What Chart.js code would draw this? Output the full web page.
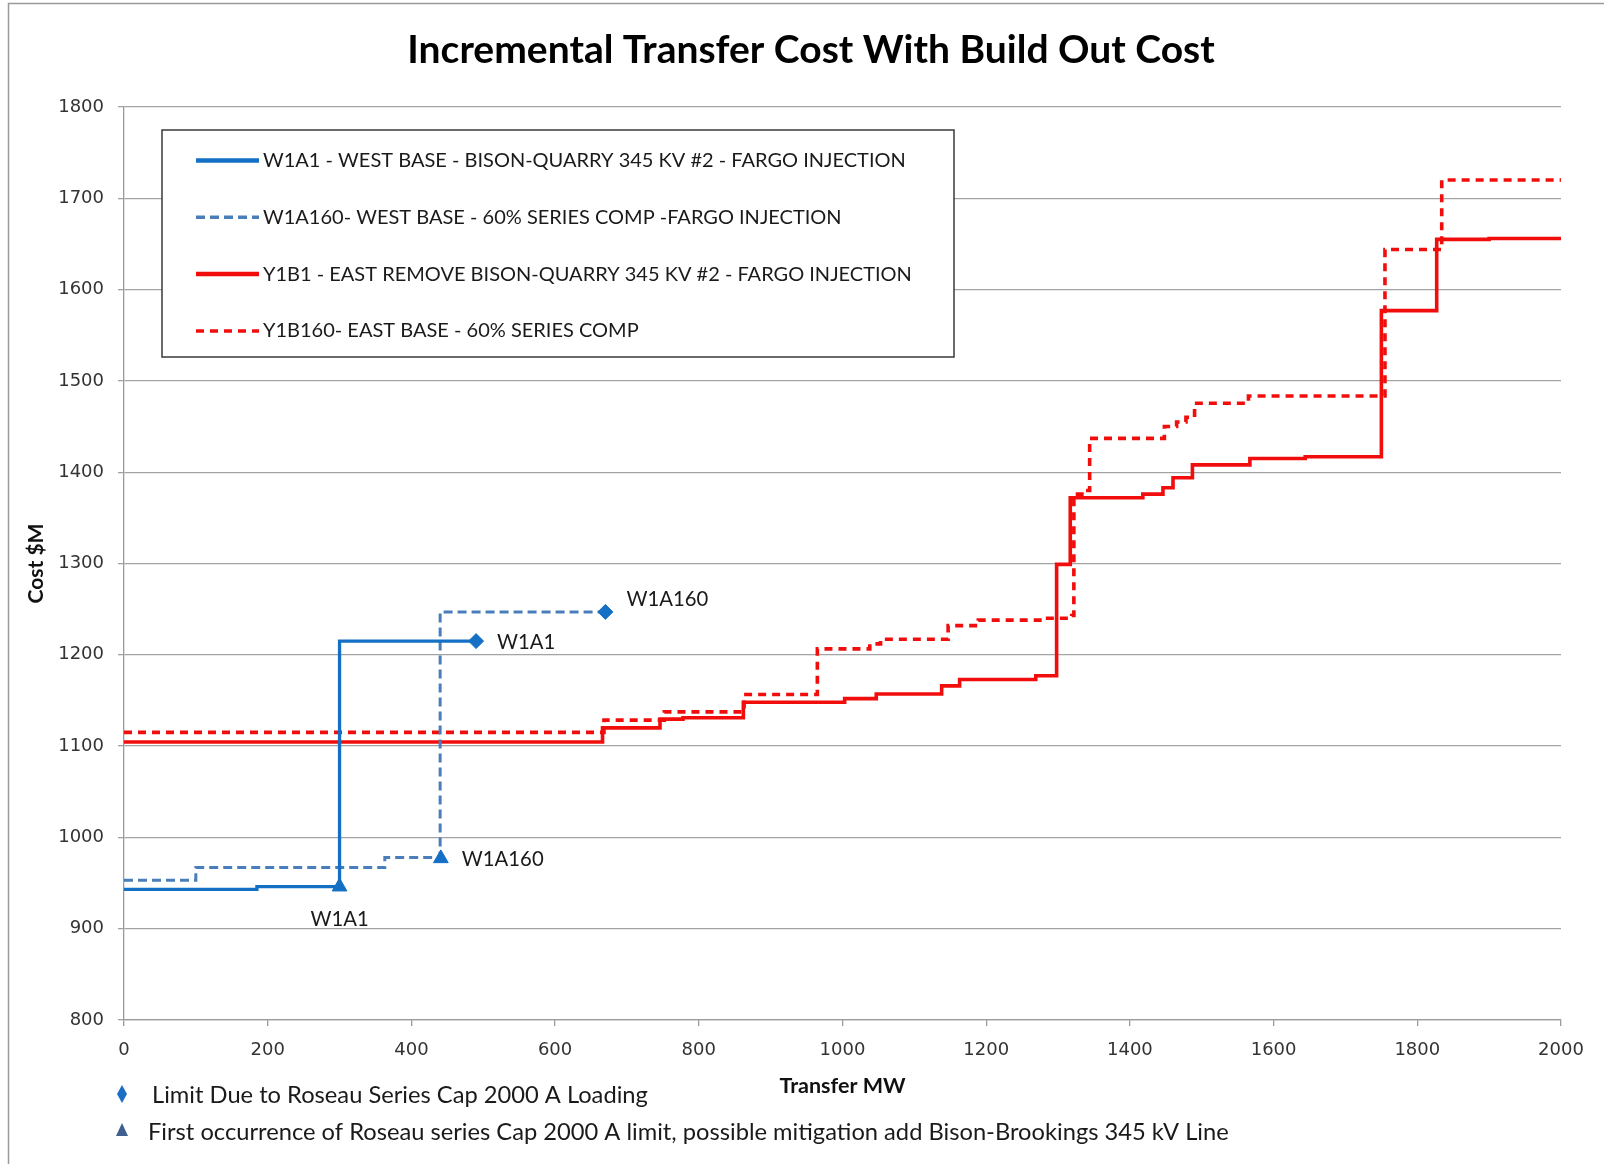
<!DOCTYPE html>
<html>
<head>
<meta charset="utf-8">
<title>Incremental Transfer Cost With Build Out Cost</title>
<script src="https://cdn.jsdelivr.net/npm/chart.js@4.4.1/dist/chart.umd.min.js"></script>
<style>
  html, body { margin: 0; padding: 0; background: #fff; }
  #grafico { display: block; }
</style>
</head>
<body>
<canvas id="grafico" width="1604" height="1164"></canvas>
<script>
const titulo = 'Incremental Transfer Cost With Build Out Cost';
const tituloX = 'Transfer MW';
const tituloY = 'Cost $M';

const nombresSeries = [
    'W1A1 - WEST BASE - BISON-QUARRY 345 KV #2 - FARGO INJECTION',
    'W1A160- WEST BASE - 60% SERIES COMP -FARGO INJECTION',
    'Y1B1 - EAST REMOVE BISON-QUARRY 345 KV #2 - FARGO INJECTION',
    'Y1B160- EAST BASE - 60% SERIES COMP'
];

// each pair = MW where a cost level starts, and that level ($M); last pair closes the line
const w1a1MW = [0, 185, 300, 490];
const w1a1Costo = [943, 946, 1215, 1215];

const w1a160MW = [0, 100, 363, 440, 670];
const w1a160Costo = [953, 967, 978, 1247, 1247];

const y1b1MW = [0, 666, 746, 778, 862, 1003, 1047, 1138, 1163, 1269, 1298, 1317, 1418, 1446, 1460, 1487, 1567, 1644, 1750, 1827, 1900, 2000];
const y1b1Costo = [1104.5, 1120, 1129.5, 1131, 1148, 1152, 1157, 1166, 1173, 1177, 1299, 1372, 1376, 1383, 1394, 1408, 1415, 1417, 1577, 1655, 1656, 1656];

const y1b160MW = [0, 668, 752, 863, 965, 1038, 1053, 1147, 1189, 1279, 1319, 1322, 1338, 1344, 1448, 1465, 1478, 1490, 1565, 1755, 1834, 2000];
const y1b160Costo = [1115, 1128.5, 1137.5, 1156.5, 1206.5, 1212, 1217, 1232, 1238, 1240, 1243, 1376, 1380, 1437, 1450, 1455, 1460, 1475.5, 1483.5, 1644, 1720, 1720];

// diamonds: limit due to Roseau series cap loading
const limiteMW = [490, 670];
const limiteCosto = [1215, 1247];
const limiteEtiquetas = ['W1A1', 'W1A160'];

// triangles: first occurrence of the Roseau limit
const primeraMW = [300, 441];
const primeraCosto = [946, 977];
const primeraEtiquetas = ['W1A1', 'W1A160'];

const notas = [
    'Limit Due to Roseau Series Cap 2000 A Loading',
    'First occurrence of Roseau series Cap 2000 A limit, possible mitigation add Bison-Brookings 345 kV Line'
];

const ticksX = [0, 200, 400, 600, 800, 1000, 1200, 1400, 1600, 1800, 2000];
const ticksY = [800, 900, 1000, 1100, 1200, 1300, 1400, 1500, 1600, 1700, 1800];

const azul = '#1470c4';
const azulClaro = '#4a7ebb';
const rojo = '#f20d0d';

const puntos = (xs, ys) => xs.map((x, i) => ({ x: x, y: ys[i] }));

const leyendaCaja = {
    id: 'leyendaCaja',
    afterDatasetsDraw(chart) {
        const { ctx, chartArea } = chart;
        const left = chartArea.left + 38;
        const top = chartArea.top + 23;
        ctx.save();
        ctx.fillStyle = '#fff';
        ctx.fillRect(left, top, 792, 227);
        ctx.strokeStyle = '#3a3a3a';
        ctx.lineWidth = 1.5;
        ctx.strokeRect(left, top, 792, 227);
        ctx.font = '20px Lato';
        ctx.textBaseline = 'middle';
        for (let i = 0; i < nombresSeries.length; i++) {
            const ds = chart.data.datasets[i];
            const y = top + 30.5 + i * 56.8;
            ctx.beginPath();
            ctx.strokeStyle = ds.borderColor;
            ctx.lineWidth = ds.borderDash.length ? 3.5 : 4.5;
            ctx.setLineDash(ds.borderDash);
            ctx.moveTo(left + 34, y);
            ctx.lineTo(left + 97, y);
            ctx.stroke();
            ctx.setLineDash([]);
            ctx.fillStyle = '#1a1a1a';
            ctx.fillText(nombresSeries[i], left + 101, y);
        }
        ctx.restore();
    }
};

const textos = {
    id: 'textos',
    afterDraw(chart) {
        const { ctx, scales } = chart;
        ctx.save();

        // marco
        ctx.strokeStyle = '#9a9a9a';
        ctx.lineWidth = 1.5;
        ctx.beginPath();
        ctx.moveTo(8.5, 1164);
        ctx.lineTo(8.5, 3.5);
        ctx.lineTo(1604, 3.5);
        ctx.stroke();

        ctx.fillStyle = '#000';
        ctx.textAlign = 'center';
        ctx.textBaseline = 'middle';
        ctx.font = 'bold 39px Lato';
        ctx.fillText(titulo, 811, 50);

        // etiquetas junto a los marcadores
        ctx.font = '20.3px Lato';
        ctx.fillStyle = '#1a1a1a';
        ctx.textAlign = 'left';
        limiteEtiquetas.forEach((t, i) => {
            const px = scales.x.getPixelForValue(limiteMW[i]);
            const py = scales.y.getPixelForValue(limiteCosto[i]);
            ctx.fillText(t, px + 21, i === 0 ? py + 1 : py - 12);
        });
        primeraEtiquetas.forEach((t, i) => {
            const px = scales.x.getPixelForValue(primeraMW[i]);
            const py = scales.y.getPixelForValue(primeraCosto[i]);
            if (i === 0) {
                ctx.textAlign = 'center';
                ctx.fillText(t, px, py + 33);
            } else {
                ctx.textAlign = 'left';
                ctx.fillText(t, px + 21, py + 1);
            }
        });

        // notas al pie
        ctx.font = '23.7px Lato';
        ctx.textAlign = 'left';
        ctx.fillText(notas[0], 152, 1095);
        ctx.fillText(notas[1], 148, 1132);

        ctx.fillStyle = '#1a6fc4';
        ctx.beginPath();
        ctx.moveTo(122, 1085);
        ctx.lineTo(127, 1094);
        ctx.lineTo(122, 1103);
        ctx.lineTo(117, 1094);
        ctx.closePath();
        ctx.fill();

        ctx.fillStyle = '#3f5f8f';
        ctx.beginPath();
        ctx.moveTo(122, 1123);
        ctx.lineTo(128, 1136);
        ctx.lineTo(116, 1136);
        ctx.closePath();
        ctx.fill();

        ctx.restore();
    }
};

const ctxGrafico = document.getElementById('grafico').getContext('2d');
new Chart(ctxGrafico, {
    type: 'scatter',
    data: {
        datasets: [
            { label: nombresSeries[0], data: puntos(w1a1MW, w1a1Costo), showLine: true, stepped: 'before',
              borderColor: azul, borderWidth: 3.3, borderDash: [], pointRadius: 0, order: 1 },
            { label: nombresSeries[1], data: puntos(w1a160MW, w1a160Costo), showLine: true, stepped: 'before',
              borderColor: azulClaro, borderWidth: 3, borderDash: [9, 5], pointRadius: 0, order: 1 },
            { label: nombresSeries[2], data: puntos(y1b1MW, y1b1Costo), showLine: true, stepped: 'before',
              borderColor: rojo, borderWidth: 3.6, borderDash: [], pointRadius: 0, order: 2 },
            { label: nombresSeries[3], data: puntos(y1b160MW, y1b160Costo), showLine: true, stepped: 'before',
              borderColor: rojo, borderWidth: 3.6, borderDash: [8, 6], pointRadius: 0, order: 2 },
            { label: 'Limit', data: puntos(limiteMW, limiteCosto), pointStyle: 'rectRot', pointRadius: 7.5,
              backgroundColor: azul, borderColor: azul, borderWidth: 1, order: 0 },
            { label: 'First occurrence', data: puntos(primeraMW, primeraCosto), pointStyle: 'triangle', pointRadius: 8.5,
              backgroundColor: azul, borderColor: azul, borderWidth: 1, order: 0 }
        ]
    },
    options: {
        responsive: false,
        animation: false,
        layout: { padding: { top: 107, left: 10, right: 43, bottom: 0 } },
        plugins: {
            legend: { display: false },
            tooltip: { enabled: false },
            title: { display: false }
        },
        scales: {
            x: {
                type: 'linear',
                min: 0,
                max: 2000,
                afterBuildTicks: (scale) => { scale.ticks = ticksX.map(v => ({ value: v })); },
                afterFit: (scale) => { scale.height = 144; },
                grid: { drawOnChartArea: false, drawTicks: true, tickLength: 6, color: '#9a9a9a', lineWidth: 1.3 },
                border: { display: true, color: '#9a9a9a', width: 1.3 },
                ticks: { padding: 14, color: '#333', font: { family: 'DejaVu Sans', size: 18 }, maxRotation: 0,
                         callback: (v) => String(v) },
                title: { display: true, text: tituloX, color: '#111', font: { family: 'Lato', weight: 'bold', size: 21.5 },
                         padding: { top: 0, bottom: 65.5 } }
            },
            y: {
                type: 'linear',
                min: 800,
                max: 1800,
                afterBuildTicks: (scale) => { scale.ticks = ticksY.map(v => ({ value: v })); },
                afterFit: (scale) => { scale.width = 114; },
                grid: { drawTicks: true, tickLength: 6, color: '#a3a3a3', lineWidth: 1.3 },
                border: { display: true, color: '#9a9a9a', width: 1.3 },
                ticks: { padding: 14, color: '#333', font: { family: 'DejaVu Sans', size: 18 },
                         callback: (v) => String(v) },
                title: { display: true, text: tituloY, color: '#111', font: { family: 'Lato', weight: 'bold', size: 21 },
                         padding: { top: 13.6, bottom: 0 } }
            }
        }
    },
    plugins: [leyendaCaja, textos]
});
</script>
</body>
</html>
